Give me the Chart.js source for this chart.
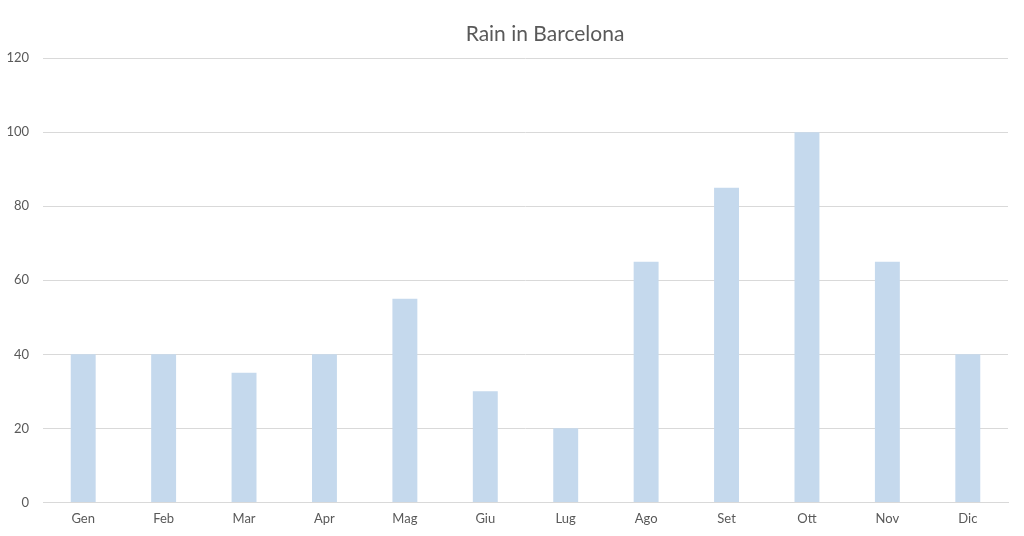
<!DOCTYPE html>
<html>
<head>
<meta charset="utf-8">
<script src="https://cdn.jsdelivr.net/npm/chart.js@4"></script>
<style>
html,body{margin:0;padding:0;background:#fff;}
#wrap{width:1024px;height:536px;position:relative;}
</style>
</head>
<body>
<div id="wrap"><canvas id="c"></canvas></div>
<script>
const months = ['Gen','Feb','Mar','Apr','Mag','Giu','Lug','Ago','Set','Ott','Nov','Dic'];
const rain = [40,40,35,40,55,30,20,65,85,100,65,40];
const chartTitle = 'Rain in Barcelona';

const shiftTitle = {
  id: 'shiftTitle',
  afterLayout(chart) {
    const t = chart.titleBlock;
    if (t) { t.left += 82; }
  }
};

new Chart(document.getElementById('c'), {
  type: 'bar',
  data: {
    labels: months,
    datasets: [{
      label: 'Rain',
      data: rain,
      backgroundColor: '#C5D9ED',
      borderWidth: 0,
      barPercentage: 0.31,
      categoryPercentage: 1.0
    }]
  },
  plugins: [shiftTitle],
  options: {
    responsive: true,
    maintainAspectRatio: false,
    animation: false,
    layout: { padding: { left: 0, right: 16, top: 0, bottom: 0 } },
    plugins: {
      legend: { display: false },
      tooltip: { enabled: false },
      title: {
        display: true,
        text: chartTitle,
        color: '#595959',
        font: { family: 'Lato, "Open Sans", sans-serif', size: 21, weight: 'normal' },
        padding: { top: 22, bottom: 11 }
      }
    },
    scales: {
      x: {
        grid: { display: false, drawTicks: false },
        border: { display: true, color: '#D9D9D9', width: 1 },
        ticks: {
          color: '#595959',
          font: { family: 'Lato, "Open Sans", sans-serif', size: 13 },
          padding: 9
        }
      },
      y: {
        min: 0, max: 120,
        afterFit: s => { s.width = 43; },
        grid: { color: '#D9D9D9', lineWidth: 1, drawTicks: false },
        border: { display: false },
        ticks: {
          stepSize: 20,
          color: '#595959',
          font: { family: 'Lato, "Open Sans", sans-serif', size: 13 },
          padding: 14
        }
      }
    }
  }
});
</script>
</body>
</html>
